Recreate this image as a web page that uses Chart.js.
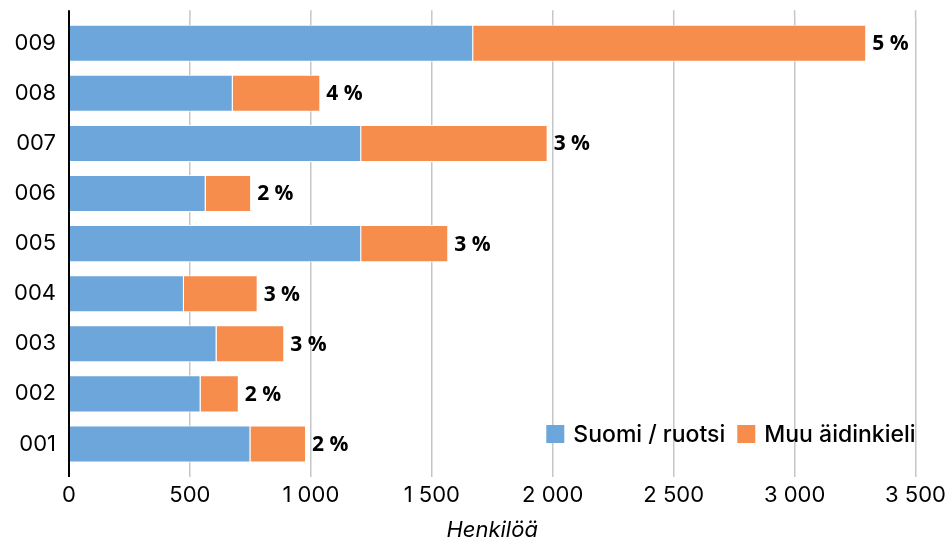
<!DOCTYPE html>
<html>
<head>
<meta charset="utf-8">
<script src="https://cdn.jsdelivr.net/npm/chart.js@4"></script>
<style>
  html, body { margin: 0; padding: 0; background: #fff; }
  canvas { display: block; }
</style>
</head>
<body>
<canvas id="kieliChart" width="951" height="541"></canvas>
<script>
// 009 ylimpänä, 001 alimpana
const categories = ['009', '008', '007', '006', '005', '004', '003', '002', '001'];
const suomiRuotsi = [1671, 677, 1208, 565, 1208, 475, 610, 544, 750];
const muuKieli = [1625, 362, 771, 188, 360, 305, 280, 158, 230];
const osuus = ['5 %', '4 %', '3 %', '2 %', '3 %', '3 %', '3 %', '2 %', '2 %'];
const seriesNames = ['Suomi / ruotsi', 'Muu äidinkieli'];
const xMax = 3500;
const xStep = 500;

const BLUE = '#6ca6da';
const ORANGE = '#f68d4c';
const GRID = '#c6c6c6';
const FONT = 'Inter, "Noto Sans", sans-serif';

// prosenttiluvut palkkien päähän
const endLabels = {
    id: 'endLabels',
    afterDatasetsDraw(chart) {
        const c = chart.ctx;
        const meta = chart.getDatasetMeta(1);
        c.save();
        c.font = 'bold 21px "Open Sans", sans-serif';
        c.fillStyle = '#000';
        c.textAlign = 'left';
        c.textBaseline = 'middle';
        meta.data.forEach((bar, i) => {
            c.fillText(osuus[i], bar.x + 6, bar.y + 1);
        });
        c.restore();
    }
};

// pystyakseli ja ruudukon jatkeet
const axisExtend = {
    id: 'axisExtend',
    afterDatasetsDraw(chart) {
        const c = chart.ctx;
        const area = chart.chartArea;
        const xs = chart.scales.x;
        c.save();
        c.strokeStyle = GRID;
        c.lineWidth = 1.5;
        xs.ticks.forEach((t, i) => {
            const px = xs.getPixelForTick(i);
            c.beginPath();
            c.moveTo(px, area.top - 8);
            c.lineTo(px, area.top);
            c.stroke();
        });
        c.strokeStyle = '#000';
        c.lineWidth = 2;
        c.beginPath();
        c.moveTo(area.left, area.top - 8);
        c.lineTo(area.left, area.bottom + 8);
        c.stroke();
        c.restore();
    }
};

// selite kuvaajan sisällä oikeassa alakulmassa
const insideLegend = {
    id: 'insideLegend',
    afterDraw(chart) {
        const c = chart.ctx;
        const area = chart.chartArea;
        const box = 18, gap = 9, itemGap = 12;
        c.save();
        c.font = '500 23px ' + FONT;
        const items = chart.data.datasets.map(ds => ({
            text: ds.label,
            color: ds.backgroundColor,
            w: box + gap + c.measureText(ds.label).width
        }));
        const total = items.reduce((a, b) => a + b.w, 0) + itemGap * (items.length - 1);
        let x = area.right - total;
        const y = 434;
        c.textBaseline = 'middle';
        c.textAlign = 'left';
        items.forEach(it => {
            c.fillStyle = it.color;
            c.fillRect(x, y - box / 2, box, box);
            c.fillStyle = '#000';
            c.fillText(it.text, x + box + gap, y + 1);
            x += it.w + itemGap;
        });
        c.restore();
    }
};

const ctx = document.getElementById('kieliChart').getContext('2d');

new Chart(ctx, {
    type: 'bar',
    data: {
        labels: categories,
        datasets: [
            {
                label: seriesNames[0],
                data: suomiRuotsi,
                backgroundColor: BLUE,
                borderColor: 'rgba(255,255,255,0.9)',
                borderWidth: 1,
                barPercentage: 0.74,
                categoryPercentage: 1
            },
            {
                label: seriesNames[1],
                data: muuKieli,
                backgroundColor: ORANGE,
                borderColor: 'rgba(255,255,255,0.9)',
                borderWidth: 1,
                barPercentage: 0.74,
                categoryPercentage: 1
            }
        ]
    },
    options: {
        indexAxis: 'y',
        responsive: false,
        animation: false,
        layout: {
            padding: { top: 4, right: 34, bottom: 0, left: 0 }
        },
        scales: {
            x: {
                stacked: true,
                min: 0,
                max: xMax,
                ticks: {
                    stepSize: xStep,
                    color: '#000',
                    padding: 5,
                    maxRotation: 0,
                    font: { family: FONT, size: 22 },
                    callback: (v) => String(v).replace(/\B(?=(\d{3})+(?!\d))/g, ' ')
                },
                grid: {
                    color: GRID,
                    lineWidth: 1.5,
                    tickLength: 8
                },
                border: { display: false },
                title: {
                    display: true,
                    text: 'Henkilöä',
                    color: '#000',
                    padding: { top: 0, bottom: 0 },
                    font: { family: FONT, size: 22, style: 'italic', lineHeight: 1 }
                },
                afterFit: (scale) => { scale.height = 72; }
            },
            y: {
                stacked: true,
                ticks: {
                    color: '#000',
                    padding: 5,
                    font: { family: FONT, size: 22 }
                },
                grid: { display: false },
                border: { display: false },
                afterFit: (scale) => { scale.width = 69; }
            }
        },
        plugins: {
            legend: { display: false },
            tooltip: { enabled: false }
        }
    },
    plugins: [axisExtend, endLabels, insideLegend]
});
</script>
</body>
</html>
